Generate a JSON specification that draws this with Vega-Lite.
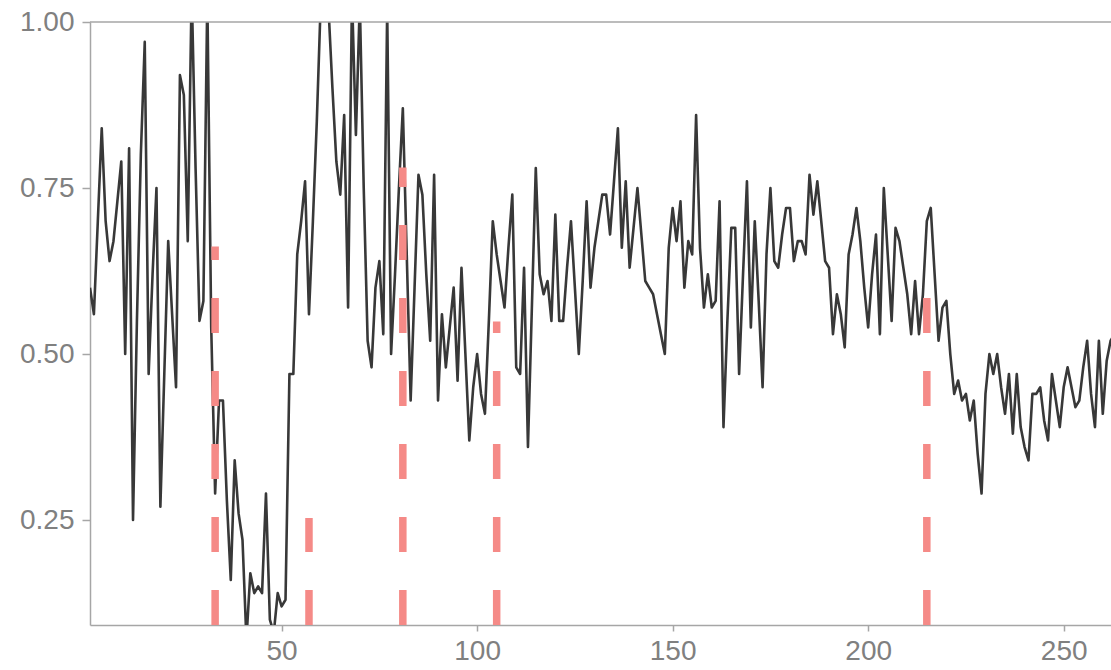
{
  "$schema": "https://vega.github.io/schema/vega-lite/v6.json",
  "autosize": {"type": "none"},
  "padding": {"left": 90, "top": 22, "right": 0, "bottom": 45},
  "width": 1021,
  "height": 603,
  "background": "white",
  "config": {
    "view": {"stroke": null},
    "axis": {
      "grid": false,
      "domainColor": "#a6a6a6",
      "domainWidth": 1.5,
      "tickColor": "#a6a6a6",
      "tickWidth": 1.5,
      "labelColor": "#808080",
      "labelFont": "Liberation Sans",
      "labelFontSize": 28,
      "titleFont": "Liberation Sans"
    }
  },
  "datasets": {
    "series": [
      {"x":1,"y":0.60},{"x":2,"y":0.56},{"x":3,"y":0.70},{"x":4,"y":0.84},{"x":5,"y":0.70},
      {"x":6,"y":0.64},{"x":7,"y":0.67},{"x":8,"y":0.73},{"x":9,"y":0.79},{"x":10,"y":0.50},
      {"x":11,"y":0.81},{"x":12,"y":0.25},{"x":13,"y":0.55},{"x":14,"y":0.80},{"x":15,"y":0.97},
      {"x":16,"y":0.47},{"x":17,"y":0.62},{"x":18,"y":0.75},{"x":19,"y":0.27},{"x":20,"y":0.47},
      {"x":21,"y":0.67},{"x":22,"y":0.56},{"x":23,"y":0.45},{"x":24,"y":0.92},{"x":25,"y":0.89},
      {"x":26,"y":0.67},{"x":27,"y":1.05},{"x":28,"y":0.78},{"x":29,"y":0.55},{"x":30,"y":0.58},
      {"x":31,"y":1.04},{"x":32,"y":0.54},{"x":33,"y":0.29},{"x":34,"y":0.43},{"x":35,"y":0.43},
      {"x":36,"y":0.28},{"x":37,"y":0.16},{"x":38,"y":0.34},{"x":39,"y":0.26},{"x":40,"y":0.22},
      {"x":41,"y":0.07},{"x":42,"y":0.17},{"x":43,"y":0.14},{"x":44,"y":0.15},{"x":45,"y":0.14},
      {"x":46,"y":0.29},{"x":47,"y":0.10},{"x":48,"y":0.08},{"x":49,"y":0.14},{"x":50,"y":0.12},
      {"x":51,"y":0.13},{"x":52,"y":0.47},{"x":53,"y":0.47},{"x":54,"y":0.65},{"x":55,"y":0.70},
      {"x":56,"y":0.76},{"x":57,"y":0.56},{"x":58,"y":0.70},{"x":59,"y":0.85},{"x":60,"y":1.03},
      {"x":61,"y":1.06},{"x":62,"y":1.02},{"x":63,"y":0.90},{"x":64,"y":0.79},{"x":65,"y":0.74},
      {"x":66,"y":0.86},{"x":67,"y":0.57},{"x":68,"y":1.04},{"x":69,"y":0.83},{"x":70,"y":1.03},
      {"x":71,"y":0.75},{"x":72,"y":0.52},{"x":73,"y":0.48},{"x":74,"y":0.60},{"x":75,"y":0.64},
      {"x":76,"y":0.53},{"x":77,"y":1.02},{"x":78,"y":0.50},{"x":79,"y":0.62},{"x":80,"y":0.75},
      {"x":81,"y":0.87},{"x":82,"y":0.65},{"x":83,"y":0.43},{"x":84,"y":0.60},{"x":85,"y":0.77},
      {"x":86,"y":0.74},{"x":87,"y":0.62},{"x":88,"y":0.52},{"x":89,"y":0.77},{"x":90,"y":0.43},
      {"x":91,"y":0.56},{"x":92,"y":0.48},{"x":93,"y":0.54},{"x":94,"y":0.60},{"x":95,"y":0.46},
      {"x":96,"y":0.63},{"x":97,"y":0.50},{"x":98,"y":0.37},{"x":99,"y":0.45},{"x":100,"y":0.50},
      {"x":101,"y":0.44},{"x":102,"y":0.41},{"x":103,"y":0.55},{"x":104,"y":0.70},{"x":105,"y":0.65},
      {"x":106,"y":0.61},{"x":107,"y":0.57},{"x":108,"y":0.66},{"x":109,"y":0.74},{"x":110,"y":0.48},
      {"x":111,"y":0.47},{"x":112,"y":0.63},{"x":113,"y":0.36},{"x":114,"y":0.57},{"x":115,"y":0.78},
      {"x":116,"y":0.62},{"x":117,"y":0.59},{"x":118,"y":0.61},{"x":119,"y":0.55},{"x":120,"y":0.71},
      {"x":121,"y":0.55},{"x":122,"y":0.55},{"x":123,"y":0.63},{"x":124,"y":0.70},{"x":125,"y":0.60},
      {"x":126,"y":0.50},{"x":127,"y":0.61},{"x":128,"y":0.73},{"x":129,"y":0.60},{"x":130,"y":0.66},
      {"x":131,"y":0.70},{"x":132,"y":0.74},{"x":133,"y":0.74},{"x":134,"y":0.68},{"x":135,"y":0.76},
      {"x":136,"y":0.84},{"x":137,"y":0.66},{"x":138,"y":0.76},{"x":139,"y":0.63},{"x":140,"y":0.69},
      {"x":141,"y":0.75},{"x":142,"y":0.68},{"x":143,"y":0.61},{"x":144,"y":0.60},{"x":145,"y":0.59},
      {"x":146,"y":0.56},{"x":147,"y":0.53},{"x":148,"y":0.50},{"x":149,"y":0.66},{"x":150,"y":0.72},
      {"x":151,"y":0.67},{"x":152,"y":0.73},{"x":153,"y":0.60},{"x":154,"y":0.67},{"x":155,"y":0.65},
      {"x":156,"y":0.86},{"x":157,"y":0.66},{"x":158,"y":0.57},{"x":159,"y":0.62},{"x":160,"y":0.57},
      {"x":161,"y":0.58},{"x":162,"y":0.73},{"x":163,"y":0.39},{"x":164,"y":0.55},{"x":165,"y":0.69},
      {"x":166,"y":0.69},{"x":167,"y":0.47},{"x":168,"y":0.62},{"x":169,"y":0.76},{"x":170,"y":0.54},
      {"x":171,"y":0.70},{"x":172,"y":0.58},{"x":173,"y":0.45},{"x":174,"y":0.65},{"x":175,"y":0.75},
      {"x":176,"y":0.64},{"x":177,"y":0.63},{"x":178,"y":0.68},{"x":179,"y":0.72},{"x":180,"y":0.72},
      {"x":181,"y":0.64},{"x":182,"y":0.67},{"x":183,"y":0.67},{"x":184,"y":0.65},{"x":185,"y":0.77},
      {"x":186,"y":0.71},{"x":187,"y":0.76},{"x":188,"y":0.70},{"x":189,"y":0.64},{"x":190,"y":0.63},
      {"x":191,"y":0.53},{"x":192,"y":0.59},{"x":193,"y":0.56},{"x":194,"y":0.51},{"x":195,"y":0.65},
      {"x":196,"y":0.68},{"x":197,"y":0.72},{"x":198,"y":0.67},{"x":199,"y":0.60},{"x":200,"y":0.54},
      {"x":201,"y":0.62},{"x":202,"y":0.68},{"x":203,"y":0.53},{"x":204,"y":0.75},{"x":205,"y":0.65},
      {"x":206,"y":0.55},{"x":207,"y":0.69},{"x":208,"y":0.67},{"x":209,"y":0.63},{"x":210,"y":0.59},
      {"x":211,"y":0.53},{"x":212,"y":0.61},{"x":213,"y":0.53},{"x":214,"y":0.59},{"x":215,"y":0.70},
      {"x":216,"y":0.72},{"x":217,"y":0.62},{"x":218,"y":0.52},{"x":219,"y":0.57},{"x":220,"y":0.58},
      {"x":221,"y":0.50},{"x":222,"y":0.44},{"x":223,"y":0.46},{"x":224,"y":0.43},{"x":225,"y":0.44},
      {"x":226,"y":0.40},{"x":227,"y":0.43},{"x":228,"y":0.35},{"x":229,"y":0.29},{"x":230,"y":0.44},
      {"x":231,"y":0.50},{"x":232,"y":0.47},{"x":233,"y":0.50},{"x":234,"y":0.45},{"x":235,"y":0.41},
      {"x":236,"y":0.47},{"x":237,"y":0.38},{"x":238,"y":0.47},{"x":239,"y":0.39},{"x":240,"y":0.36},
      {"x":241,"y":0.34},{"x":242,"y":0.44},{"x":243,"y":0.44},{"x":244,"y":0.45},{"x":245,"y":0.40},
      {"x":246,"y":0.37},{"x":247,"y":0.47},{"x":248,"y":0.43},{"x":249,"y":0.39},{"x":250,"y":0.45},
      {"x":251,"y":0.48},{"x":252,"y":0.45},{"x":253,"y":0.42},{"x":254,"y":0.43},{"x":255,"y":0.48},
      {"x":256,"y":0.52},{"x":257,"y":0.44},{"x":258,"y":0.39},{"x":259,"y":0.52},{"x":260,"y":0.41},
      {"x":261,"y":0.49},{"x":262,"y":0.52},{"x":263,"y":0.53}
    ],
    "marks": [
      {"x": 33, "base": 0.092, "top": 0.662},
      {"x": 57, "base": 0.092, "top": 0.253},
      {"x": 81, "base": 0.092, "top": 0.781},
      {"x": 105, "base": 0.092, "top": 0.549},
      {"x": 215, "base": 0.092, "top": 0.585}
    ],
    "frame": [{"v": 1.0}]
  },
  "layer": [
    {
      "data": {"name": "series"},
      "mark": {"type": "line", "color": "#383838", "strokeWidth": 2.6, "strokeJoin": "round", "clip": true},
      "encoding": {
        "x": {
          "field": "x", "type": "quantitative",
          "scale": {"domain": [1, 262.1], "nice": false, "zero": false},
          "axis": {"title": null, "values": [50, 100, 150, 200, 250], "tickSize": 6, "labelPadding": 6}
        },
        "y": {
          "field": "y", "type": "quantitative",
          "scale": {"domain": [0.092, 1.0], "nice": false, "zero": false},
          "axis": {"title": null, "values": [0.25, 0.5, 0.75, 1.0], "format": ".2f", "tickSize": 8, "labelPadding": 8}
        }
      }
    },
    {
      "data": {"name": "marks"},
      "mark": {"type": "rule", "color": "#f58a87", "strokeWidth": 7.5, "strokeDash": [35, 38], "clip": true},
      "encoding": {
        "x": {"field": "x", "type": "quantitative"},
        "y": {"field": "base", "type": "quantitative"},
        "y2": {"field": "top"}
      }
    },
    {
      "data": {"name": "frame"},
      "mark": {"type": "rule", "color": "#a6a6a6", "strokeWidth": 1.5},
      "encoding": {
        "y": {"field": "v", "type": "quantitative"}
      }
    }
  ]
}
